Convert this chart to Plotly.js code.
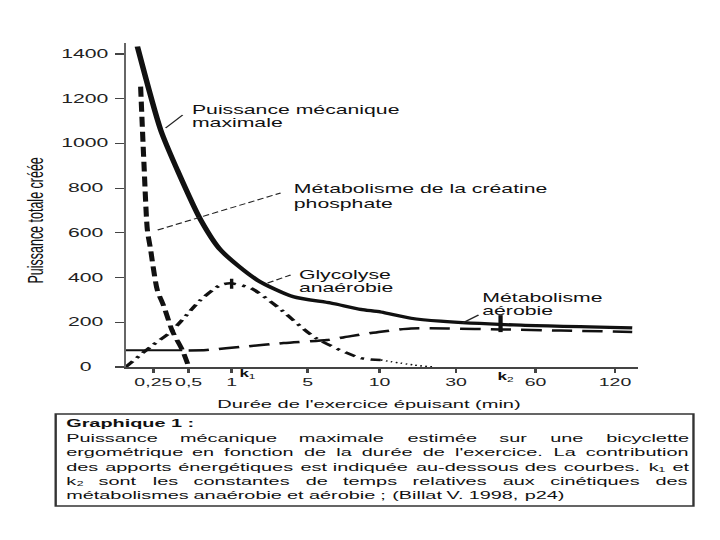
<!DOCTYPE html>
<html>
<head>
<meta charset="utf-8">
<script src="https://cdn.plot.ly/plotly-3.0.1.min.js"></script>
<style>
html, body { margin: 0; padding: 0; background: #fff; overflow: hidden; }
#chart { width: 424px; height: 540px; transform: scaleX(1.69811); transform-origin: 0 0; }
</style>
</head>
<body>
<div id="chart"></div>
<script>
// x axis of the figure: hand drawn, uneven spacing between the durations
const tickMinutes = [0, 0.25, 0.5, 1, 5, 10, 30, 60, 120];
const tickText = ['0,25', '0,5', '1', '5', '10', '30', '60', '120'];
const powerTicks = [0, 200, 400, 600, 800, 1000, 1200, 1400];

// curves (duration in min, power)
const maxPowerMin = [0.106, 0.302, 0.42, 0.64, 0.872, 2.35, 4.26, 6.6, 8.68, 10.3, 18.2, 25.9, 51.7, 133];
const maxPowerW   = [1433, 1060, 881, 658, 523, 389, 314, 286, 258, 246, 218, 205, 188, 175];

const creatineMin = [0.135, 0.165, 0.196, 0.226, 0.252, 0.278, 0.325, 0.385, 0.455, 0.502];
const creatineW   = [1254, 912, 613, 523, 434, 344, 270, 160, 76, 0];

const glycoMin = [0, 0.226, 0.375, 0.64, 0.872, 0.99, 2.0, 3.4, 5.56, 8.68, 10.3];
const glycoW   = [0, 91, 158, 300, 367, 374, 353, 270, 130, 40, 31];
const glycoTailMin = [10.3, 18.9, 24.1];
const glycoTailW   = [31, 9, 0];

const aerobicBaseMin = [0, 0.455];
const aerobicBaseW   = [75, 75];
const aerobicMin = [0.5, 0.71, 1.63, 3.74, 6.37, 8.0, 10.3, 18.2, 27.7, 46.7, 79.2, 133];
const aerobicW   = [74, 76, 91, 107, 121, 138, 158, 172, 172, 168, 163, 157];

const k1Min = 1, k1W = [350, 395];
const k2Min = 46.8, k2W = [156, 232];

// the scanned figure is stretched sideways: draw narrow, widen with css
const S = 720 / 424;
// where each tick sits along the axis (px from the origin in the figure)
const axisPlace = [0, 27.7, 63, 106, 182, 254, 330.5, 410, 489.5];
function place(t) {
    for (let i = 1; i < tickMinutes.length; i++) {
        if (t <= tickMinutes[i]) {
            return axisPlace[i-1] + (t - tickMinutes[i-1]) / (tickMinutes[i] - tickMinutes[i-1]) * (axisPlace[i] - axisPlace[i-1]);
        }
    }
    let n = tickMinutes.length - 1;
    return axisPlace[n] + (t - tickMinutes[n]) / (tickMinutes[n] - tickMinutes[n-1]) * (axisPlace[n] - axisPlace[n-1]);
}
// figure px -> paper
const px = X => (X - 125) / 513;
const py = Y => (367 - Y) / 324;

const FONT = 'Liberation Sans, Arial, sans-serif';

function curve(t, w, width, dash) {
    return {
        x: t.map(place), y: w, type: 'scatter', mode: 'lines',
        line: {color: '#111', width: width, dash: dash, shape: 'spline', smoothing: 0.7},
        hoverinfo: 'skip', showlegend: false
    };
}

let traces = [
    curve(aerobicBaseMin, aerobicBaseW, 2, 'solid'),
    curve(aerobicMin, aerobicW, 2.5, '12px,6px'),
    curve(glycoMin, glycoW, 2.5, '7px,4px,2px,4px'),
    curve(glycoTailMin, glycoTailW, 1.5, '1px,2px'),
    curve(creatineMin, creatineW, 3, '10px,5px'),
    curve(maxPowerMin, maxPowerW, 3.3, 'solid'),
    curve([k1Min, k1Min], k1W, 2, 'solid'),
    curve([k2Min, k2Min], k2W, 2.5, 'solid'),
]

let annotations = []
function label(text, X, Y, size, opts) {
    annotations.push(Object.assign({
        xref: 'paper', yref: 'paper', x: px(X), y: py(Y), text: text,
        showarrow: false, xanchor: 'left', yanchor: 'middle', borderpad: 0,
        font: {family: FONT, size: size, color: '#111'}
    }, opts || {}))
}

// y tick labels are centred in the figure
powerTicks.forEach(v => annotations.push({
    xref: 'paper', yref: 'y', x: px(85), y: v, text: String(v), showarrow: false,
    xanchor: 'center', yanchor: 'middle', font: {family: FONT, size: 12.5, color: '#222'}
}))

label('Puissance totale créée', 36, 220, 12.5, {textangle: -90, xanchor: 'center'})
label("Durée de l'exercice épuisant (min)", 368, 404, 11.8, {xanchor: 'center'})

label('Puissance mécanique', 190, 110, 12.5)
label('maximale', 190, 123, 12.5)
label('Métabolisme de la créatine', 291, 189, 12.5)
label('phosphate', 291, 204, 12.5)
label('Glycolyse', 296, 275, 12.5)
label('anaérobie', 296, 288, 12.5)
label('Métabolisme', 480, 298, 12.5)
label('aérobie', 480, 311, 12.5)
label('<b>k</b><sub>1</sub>', 237, 374, 10)
label('<b>k</b><sub>2</sub>', 496, 377, 10)

let shapes = []
function lead(x0, y0, x1, y1, dash) {
    shapes.push({type: 'line', xref: 'paper', yref: 'paper', x0: px(x0), y0: py(y0), x1: px(x1), y1: py(y1),
        line: {color: '#222', width: 1, dash: dash || 'solid'}})
}
lead(165, 128, 182, 115)
lead(157, 230, 280, 193, '4px,2px')
lead(267, 283, 290, 275, '4px,2px')
lead(462, 323, 478, 315)

// caption box
shapes.push({type: 'rect', xref: 'paper', yref: 'paper', x0: px(55), x1: px(693), y0: py(414), y1: py(506),
    line: {color: '#333', width: 1.4}})

const captionTitle = 'Graphique 1 :';
const captionLines = [
    'Puissance mécanique maximale estimée sur une bicyclette',
    "ergométrique en fonction de la durée de l'exercice. La contribution",
    'des apports énergétiques est indiquée au-dessous des courbes. k₁ et',
    'k₂ sont les constantes de temps relatives aux cinétiques des',
    'métabolismes anaérobie et aérobie ; (Billat V. 1998, p24)'
];
const captionY = [437, 451.5, 466, 480, 494.5];
label('<b>' + captionTitle + '</b>', 63, 422, 11.7)

const capSize = 11.7;
const ctx = document.createElement('canvas').getContext('2d');
ctx.font = capSize + 'px "Liberation Sans"';
const left = 63 / S, right = 686 / S;
captionLines.forEach((line, i) => {
    let words = line.split(' ');
    let widths = words.map(w => ctx.measureText(w).width);
    let total = widths.reduce((a, b) => a + b, 0);
    let gap = i < captionLines.length - 1 ? (right - left - total) / (words.length - 1) : ctx.measureText(' ').width;
    let xu = left;
    words.forEach((w, j) => {
        label(w, xu * S, captionY[i], capSize)
        xu += widths[j] + gap;
    })
})

let layout = {
    width: 424,
    height: 540,
    margin: {l: 125 / S, r: 424 - 638 / S, t: 43, b: 173, pad: 0},
    paper_bgcolor: '#fff',
    plot_bgcolor: '#fff',
    showlegend: false,
    xaxis: {
        range: [0, 513],
        tickvals: axisPlace.slice(1),
        ticktext: tickText,
        tickangle: 0,
        showline: true, linecolor: '#444', linewidth: 1.5,
        ticks: 'outside', ticklen: 4, tickwidth: 1.5, tickcolor: '#444',
        showgrid: false, zeroline: false,
        tickfont: {family: FONT, size: 11.5, color: '#222'},
    },
    yaxis: {
        range: [0, 1449],
        tickvals: powerTicks,
        showticklabels: false,
        showline: true, linecolor: '#666', linewidth: 1,
        ticks: 'outside', ticklen: 5, tickwidth: 1.2, tickcolor: '#444',
        showgrid: false, zeroline: false,
    },
    annotations: annotations,
    shapes: shapes,
}
Plotly.newPlot('chart', traces, layout, {displayModeBar: false, staticPlot: true})
</script>
</body>
</html>
